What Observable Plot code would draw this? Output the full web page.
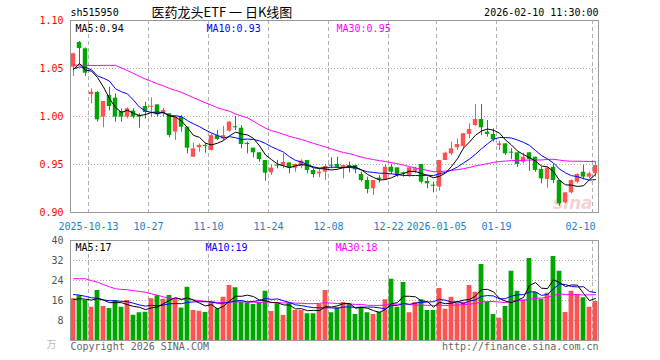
<!DOCTYPE html>
<html><head><meta charset="utf-8">
<script src="https://cdn.jsdelivr.net/npm/d3@7"></script>
<script src="https://cdn.jsdelivr.net/npm/@observablehq/plot@0.6"></script>
<style>
body{margin:0;background:#fff}
#chart{width:660px;height:360px;position:relative;background:#fff}
#chart svg{display:block}
</style>
</head><body><div id="chart"></div>
<script>
// ---------- data ----------
const holidays = ["2025-10-01","2025-10-02","2025-10-03","2025-10-06","2025-10-07","2025-10-08","2026-01-01","2026-01-02"];
const tickDates  = ["2025-10-13","2025-10-27","2025-11-10","2025-11-24","2025-12-08","2025-12-22","2026-01-05","2026-01-19","2026-02-10"];
const tickLabels = ["2025-10-13","10-27","11-10","11-24","12-08","12-22","2026-01-05","01-19","02-10"];
const priceTicks = [1.10, 1.05, 1.00, 0.95, 0.90];
const volTicks = [40, 32, 24, 16, 8];

const open = [
1.0514,1.0771,1.0705,1.0229,1.025,0.9993,1.0219,1.0191,1.0052,0.9993,
1.0056,1.001,1.0104,1.0096,1.0121,1.0028,1.0028,0.9837,0.9993,0.9889,
0.9576,0.9674,0.9698,0.9646,0.980,0.9767,0.9847,0.9893,0.9878,0.972,
0.967,0.9622,0.9542,0.9413,0.9486,0.9483,0.9517,0.9462,0.9479,0.9542,
0.9438,0.9403,0.942,0.949,0.95,0.9455,0.9483,0.949,0.9396,0.9333,
0.9247,0.9358,0.934,0.9472,0.9465,0.9406,0.9385,0.9431,0.95,0.9323,
0.9278,0.9264,0.9542,0.9611,0.9674,0.9688,0.9813,0.9906,0.9969,0.9837,
0.9813,0.9698,0.9715,0.9622,0.9622,0.9524,0.9622,0.9576,0.9448,0.9344,
0.9472,0.9333,0.9101,0.9205,0.9316,0.942,0.9368,0.9403];
const high = [
1.066,1.078,1.0715,1.0288,1.026,1.0156,1.0306,1.0236,1.008,1.009,
1.008,1.0028,1.0149,1.0194,1.0121,1.0085,1.0028,0.9993,1.001,0.9889,
0.9722,0.9715,0.9722,0.982,0.9854,0.9896,0.9948,1.0,0.9906,0.9733,
0.967,0.9622,0.9542,0.95,0.9542,0.9611,0.9517,0.9505,0.9549,0.9542,
0.9455,0.9455,0.95,0.9569,0.9576,0.949,0.9524,0.949,0.942,0.9368,
0.9333,0.9385,0.9497,0.95,0.9465,0.942,0.9465,0.9472,0.95,0.9368,
0.9316,0.9542,0.9628,0.9733,0.9767,0.982,0.9924,1.0125,1.0125,0.9958,
0.9872,0.9743,0.9715,0.9663,0.9622,0.9618,0.9622,0.9576,0.9472,0.9472,
0.95,0.9333,0.9205,0.934,0.9403,0.949,0.942,0.9524];
const low = [
1.0417,1.0535,1.0417,1.0132,0.9941,0.9882,1.0056,0.9941,0.9941,0.9976,
0.9976,0.9878,0.9976,0.9993,0.9993,0.9993,0.9778,0.975,0.9837,0.9611,
0.9576,0.9628,0.9618,0.9639,0.975,0.975,0.9837,0.9854,0.9663,0.9611,
0.9569,0.9524,0.9326,0.9385,0.9455,0.9455,0.9403,0.942,0.9455,0.9403,
0.9361,0.9361,0.9333,0.9455,0.9455,0.935,0.9413,0.9403,0.9316,0.9194,
0.9177,0.9309,0.9333,0.9396,0.9368,0.9368,0.9368,0.9403,0.9299,0.9247,
0.9205,0.9222,0.9542,0.9594,0.9646,0.9663,0.9767,0.9896,0.9802,0.9785,
0.9733,0.9646,0.9594,0.9549,0.9472,0.9507,0.943,0.942,0.9299,0.9253,
0.9299,0.9066,0.909,0.9194,0.9299,0.934,0.935,0.9368];
const close = [
1.0653,1.0708,1.0451,1.0253,0.9965,1.0156,1.0104,0.9993,0.9993,1.008,
0.9993,0.9993,1.0042,1.0104,1.0017,1.0063,0.9802,0.9993,0.9889,0.967,
0.9663,0.9698,0.9688,0.980,0.976,0.980,0.9941,0.9882,0.9708,0.9708,
0.9622,0.9552,0.941,0.9462,0.9483,0.9521,0.9462,0.95,0.9535,0.9438,
0.9396,0.942,0.9479,0.9483,0.9472,0.949,0.9479,0.9444,0.9333,0.924,
0.9333,0.934,0.9472,0.942,0.9392,0.9403,0.9465,0.9455,0.9316,0.9299,
0.9274,0.9542,0.9618,0.9663,0.9708,0.982,0.9865,0.9969,0.9882,0.9813,
0.9757,0.9715,0.9611,0.9618,0.95,0.9576,0.9552,0.9438,0.9351,0.9462,
0.9333,0.909,0.9205,0.9333,0.9396,0.9368,0.9403,0.949];
const volume = [
16.7,17.9,16,13.3,20,13.6,12.8,16,13.3,16,
10.1,11.1,11.3,16.7,17.9,16.5,18,16.7,13,21.3,
12,11.7,11.2,15.6,12.7,17.3,22,21.1,15.3,15,
14.4,15.2,19.7,11.6,14.7,10,14.9,12,12,10.7,
10.7,14.4,20,11.1,13.1,15.2,14.7,10.4,13.1,11.1,
10.4,11.3,16.3,24.5,13.3,23.2,11.1,15.2,16.3,12,
12,20.8,12.5,17.3,14.9,15.3,22,19.3,30.4,15.3,
10.4,8.9,13.6,27.7,19.7,16.3,32.8,19.3,16.5,18.9,
33.6,27.7,11.2,19.7,18.4,17.1,13.3,15.6];
// closes / volumes of the 29 sessions before the window, estimated from where the MA lines start
const priorClose = [1.07,1.05,1.03,1.00,1.01,1.01,1.00,1.08,1.09,1.09,1.09,1.09,1.08,1.08,1.07,1.06,1.06,1.05,1.05,1.05,1.05,1.05,1.05,1.06,1.04,1.04,1.08,1.03,1.03];
const priorVolume = [17,17,36,39,42,38,40,22,20,21,20,21,36,34,37,34,21,20,22,20,20,21,19,22,20,16,17,15,17];

// ---------- derived ----------
const fmt = d3.utcFormat("%Y-%m-%d");
const dates = d3.utcDays(new Date("2025-09-30"), new Date("2026-02-11"))
  .filter(d => d.getUTCDay() % 6 !== 0 && !holidays.includes(fmt(d))).map(fmt);
const allC = priorClose.concat(close), allV = priorVolume.concat(volume), P = priorClose.length;
const ma = (arr, n, i) => d3.mean(arr.slice(P + i - n + 1, P + i + 1));
const bars = close.map((c, i) => ({
  i, date: dates[i], open: open[i], high: high[i], low: low[i], close: c, vol: volume[i],
  up: c >= open[i],
  ma5: ma(allC, 5, i), ma10: ma(allC, 10, i), ma30: ma(allC, 30, i),
  v5: ma(allV, 5, i), v10: ma(allV, 10, i), v30: ma(allV, 30, i)
}));
const ticks = tickDates.map((d, k) => ({i: dates.indexOf(d), label: tickLabels[k]}));
const ticksMid = ticks.slice(0, -1), tickEnd = ticks.slice(-1);
const last = bars[bars.length - 1];

const RED = "#ff5252", GREEN = "#00a600";
const col = d => d.up ? RED : GREEN;
const FONT = "DejaVu Sans Mono";
const N = bars.length;
const xCfg = {domain: [-0.5, N - 0.5], axis: null};
const gridX = ticks.map(t => t.i - 0.5);

// ---------- price panel ----------
const price = Plot.plot({
  width: 660, height: 232, marginLeft: 70, marginRight: 62, marginTop: 20, marginBottom: 20,
  x: xCfg, y: {domain: [0.9, 1.1], axis: null},
  style: {fontFamily: FONT, fontSize: "10px", overflow: "visible", background: "transparent"},
  marks: [
    Plot.ruleY([1.05, 1.00, 0.95], {stroke: "#a8a8a8", strokeDasharray: "1,2"}),
    Plot.ruleX(gridX, {stroke: "#b0b0b0", strokeDasharray: "4,3"}),
    Plot.text(["sina"], {frameAnchor: "bottom-right", dx: -6, dy: -9, textAnchor: "end", lineAnchor: "middle",
      fill: "#f3d3d3", fontSize: 17, fontStyle: "italic", fontWeight: "bold", fontFamily: "DejaVu Sans"}),
    Plot.ruleX(bars, {x: "i", y1: "low", y2: "high", stroke: col, strokeWidth: 1}),
    Plot.rect(bars, {x1: d => d.i - 0.37, x2: d => d.i + 0.37,
      y1: d => Math.min(d.open, d.close), y2: d => Math.max(d.open, d.close, Math.min(d.open, d.close) + 0.0011), fill: col}),
    Plot.line(bars, {x: "i", y: "ma30", stroke: "#ff00ff", strokeWidth: 1}),
    Plot.line(bars, {x: "i", y: "ma10", stroke: "#0000ff", strokeWidth: 1}),
    Plot.line(bars, {x: "i", y: "ma5", stroke: "#000", strokeWidth: 1}),
    Plot.frame({stroke: "#999"}),
    Plot.text(priceTicks, {y: d => d, text: d => d.toFixed(2), frameAnchor: "left", textAnchor: "end", dx: -7, lineAnchor: "middle", fill: "#f00"}),
    Plot.text(ticksMid, {x: d => d.i - 0.5, text: "label", frameAnchor: "bottom", dy: 14,
      textAnchor: "middle", lineAnchor: "middle", fill: "#1282d6"}),
    Plot.text(tickEnd, {x: d => d.i - 0.5, text: "label", frameAnchor: "bottom", dy: 14, dx: 3,
      textAnchor: "end", lineAnchor: "middle", fill: "#1282d6"}),
    Plot.text([`MA5:${last.ma5.toFixed(2)}`], {frameAnchor: "top-left", dx: 5, dy: 8, textAnchor: "start", lineAnchor: "middle", fill: "#000"}),
    Plot.text([`MA10:${last.ma10.toFixed(2)}`], {frameAnchor: "top-left", dx: 136, dy: 8, textAnchor: "start", lineAnchor: "middle", fill: "#0000ff"}),
    Plot.text([`MA30:${last.ma30.toFixed(2)}`], {frameAnchor: "top-left", dx: 266, dy: 8, textAnchor: "start", lineAnchor: "middle", fill: "#ff00ff"}),
    Plot.text(["sh515950"], {frameAnchor: "top-left", dy: -8, textAnchor: "start", lineAnchor: "middle", fill: "#000"}),
    Plot.text(["医药龙头ETF 一 日K线图"], {frameAnchor: "top-left", dx: 81, dy: -8, textAnchor: "start", lineAnchor: "middle",
      fill: "#000", fontSize: 13, fontFamily: "Noto Sans CJK SC"}),
    Plot.text([`${last.date} 11:30:00`], {frameAnchor: "top-right", dy: -8, textAnchor: "end", lineAnchor: "middle", fill: "#000"})
  ]
});

// ---------- volume panel ----------
const vol = Plot.plot({
  width: 660, height: 128, marginLeft: 70, marginRight: 62, marginTop: 8, marginBottom: 20,
  x: xCfg, y: {domain: [0, 40], axis: null},
  style: {fontFamily: FONT, fontSize: "10px", overflow: "visible", background: "transparent"},
  marks: [
    Plot.ruleY([32, 24, 16, 8], {stroke: "#a8a8a8", strokeDasharray: "1,2"}),
    Plot.ruleX(gridX, {stroke: "#b0b0b0", strokeDasharray: "4,3"}),
    Plot.rect(bars, {x1: d => d.i - 0.4, x2: d => d.i + 0.4, y1: 0, y2: "vol", fill: col}),
    Plot.line(bars, {x: "i", y: "v30", stroke: "#ff00ff", strokeWidth: 1}),
    Plot.line(bars, {x: "i", y: "v10", stroke: "#0000ff", strokeWidth: 1}),
    Plot.line(bars, {x: "i", y: "v5", stroke: "#000", strokeWidth: 1}),
    Plot.frame({stroke: "#999"}),
    Plot.text(volTicks, {y: d => d, text: d => String(d), frameAnchor: "left", textAnchor: "end", dx: -7, lineAnchor: "middle", fill: "#555"}),
    Plot.text(["万"], {frameAnchor: "bottom-left", dx: -14, dy: 4, textAnchor: "end", lineAnchor: "middle", fill: "#bbb", fontFamily: "Noto Sans CJK SC"}),
    Plot.text([`MA5:${last.v5.toFixed(0)}`], {frameAnchor: "top-left", dx: 5, dy: 7, textAnchor: "start", lineAnchor: "middle", fill: "#000"}),
    Plot.text([`MA10:${last.v10.toFixed(0)}`], {frameAnchor: "top-left", dx: 135, dy: 7, textAnchor: "start", lineAnchor: "middle", fill: "#0000ff"}),
    Plot.text([`MA30:${last.v30.toFixed(0)}`], {frameAnchor: "top-left", dx: 265, dy: 7, textAnchor: "start", lineAnchor: "middle", fill: "#ff00ff"}),
    Plot.text(["Copyright 2026 SINA.COM"], {frameAnchor: "bottom-left", dy: 6, textAnchor: "start", lineAnchor: "middle", fill: "#666"}),
    Plot.text(["http://finance.sina.com.cn"], {frameAnchor: "bottom-right", dy: 6, textAnchor: "end", lineAnchor: "middle", fill: "#666"})
  ]
});
const root = document.getElementById("chart");
root.append(price, vol);
</script>
</body></html>
